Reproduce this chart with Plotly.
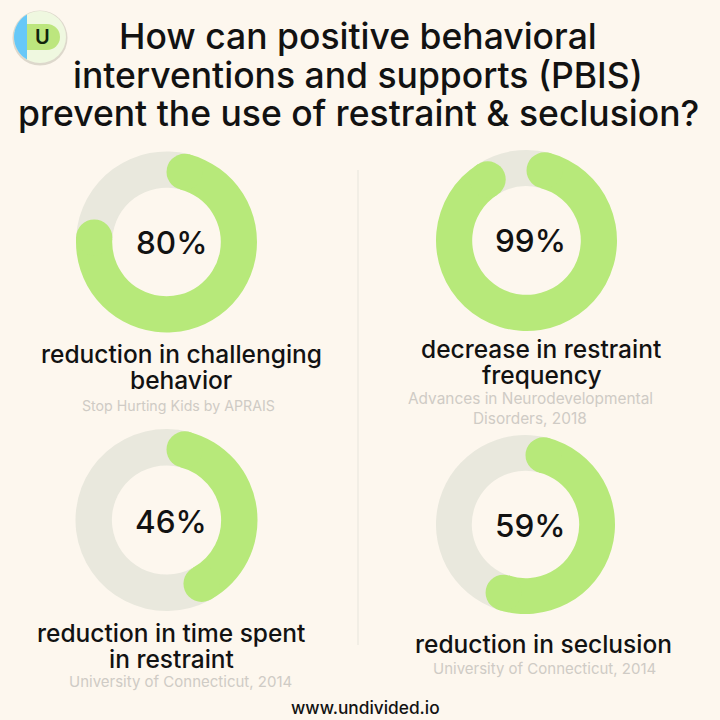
import math
import plotly.graph_objects as go

# ---- data ----
percent_labels = ["80%", "99%", "46%", "59%"]
arc_shares = [80, 95, 46, 59]  # share of the ring actually painted green
captions = [["reduction in challenging", "behavior"], ["decrease in restraint", "frequency"],
            ["reduction in time spent", "in restraint"], ["reduction in seclusion"]]
sources = [["Stop Hurting Kids by APRAIS"], ["Advances in Neurodevelopmental", "Disorders, 2018"],
           ["University of Connecticut, 2014"], ["University of Connecticut, 2014"]]
title_lines = ["How can positive behavioral", "interventions and supports (PBIS)",
               "prevent the use of restraint & seclusion?"]

# ---- layout / style ----
S = 720
BG, GREEN, TRACK = "#FDF7EE", "#B7E97A", "#E9E8DD"
INK, SOFT = "#121212", "#CFCBC5"
FONT = "Inter"
centers = [(166.5, 242), (526.5, 240.5), (166.5, 520), (525.5, 524.5)]
radii = [90.5, 90.5, 91, 89.5]
HOLE = 0.6
pct_pos = [(171, 242), (530, 240), (171, 521), (530, 525)]
cap_pos = [(181, 354), (541, 349), (171, 633), (543, 644)]
src_pos = [(178, 406), (530, 398), (180, 681), (544, 668)]
src_size = [14.2, 15.4, 15, 15]
title_y = [36, 75, 113]
CAP_GAP, SRC_GAP = 26, 20

fig = go.Figure()
shapes, notes = [], []


def note(x, y, text, size, color=INK, weight=500):
    notes.append(dict(x=x, y=y, xref="x", yref="y", text=text, showarrow=False, align="center",
                      xanchor="center", yanchor="middle",
                      font=dict(family=FONT, size=size, color=color, weight=weight)))


# invisible trace pins the pixel-like cartesian frame used by shapes and text
fig.add_trace(go.Scatter(x=[0, S], y=[0, S], mode="markers", marker=dict(opacity=0),
                         hoverinfo="skip", showlegend=False))

for (cx, cy), R, share in zip(centers, radii, arc_shares):
    r = R * HOLE
    mid, half = (R + r) / 2, (R - r) / 2
    cap_deg = math.degrees(math.asin(half / mid))
    cap_share = cap_deg / 3.6
    body = share - 2 * cap_share
    fig.add_trace(go.Pie(values=[body, 100 - body], sort=False, direction="clockwise",
                         rotation=cap_deg, hole=HOLE, textinfo="none", hoverinfo="skip",
                         showlegend=False, marker=dict(colors=[GREEN, TRACK], line=dict(width=0)),
                         domain=dict(x=[(cx - R) / S, (cx + R) / S],
                                     y=[1 - (cy + R) / S, 1 - (cy - R) / S])))
    for deg in (cap_deg, share * 3.6 - cap_deg):
        a = math.radians(deg)
        px, py = cx + mid * math.sin(a), cy - mid * math.cos(a)
        shapes.append(dict(type="circle", xref="x", yref="y", layer="above",
                           x0=px - half, x1=px + half, y0=py - half, y1=py + half,
                           fillcolor=GREEN, line=dict(width=0)))

for (x, y), t in zip(pct_pos, percent_labels):
    note(x, y, t, 31.5, weight=500)
for (x, y), lines in zip(cap_pos, captions):
    for i, t in enumerate(lines):
        note(x, y + i * CAP_GAP, t, 24.5, weight=500)
for (x, y), lines, size in zip(src_pos, sources, src_size):
    for i, t in enumerate(lines):
        note(x, y + i * SRC_GAP, t, size, color=SOFT, weight=400)
for y, t in zip(title_y, title_lines):
    note(358, y, t, 35.5, weight=500)
note(365, 707, "www.undivided.io", 17.3, weight=500)

# divider
shapes.append(dict(type="line", xref="x", yref="y", x0=358, x1=358, y0=170, y1=645,
                   line=dict(color="#EEEBE2", width=1.5), layer="below"))
# logo
lx, ly, lR = 40, 37, 26
chord_x = 27
half_angle = math.degrees(math.acos((lx - chord_x) / lR))
blue_pts = [(lx - lR * math.cos(math.radians(d)), ly + lR * math.sin(math.radians(d)))
            for d in [-half_angle + 2 * half_angle * i / 24 for i in range(25)]]
blue_path = "M" + " L".join(f"{x:.2f},{y:.2f}" for x, y in blue_pts) + " Z"
shapes += [
    dict(type="circle", xref="x", yref="y", layer="above", x0=lx - lR - 1.5, x1=lx + lR + 1.5,
         y0=ly - lR - 0.5, y1=ly + lR + 2.5, fillcolor="#DDD8CC", line=dict(width=0)),
    dict(type="circle", xref="x", yref="y", layer="above", x0=lx - lR, x1=lx + lR,
         y0=ly - lR, y1=ly + lR, fillcolor="#EFF8E0", line=dict(width=0)),
    dict(type="path", xref="x", yref="y", layer="above", path=blue_path,
         fillcolor="#66C8F8", line=dict(width=0)),
    dict(type="rect", xref="x", yref="y", layer="above", x0=27, x1=47, y0=24, y1=50,
         fillcolor="#BCE67E", line=dict(width=0)),
    dict(type="circle", xref="x", yref="y", layer="above", x0=34, x1=60, y0=24, y1=50,
         fillcolor="#BCE67E", line=dict(width=0)),
]
note(42, 37, "U", 20, color="#10240C", weight=600)

hidden = dict(visible=False, showgrid=False, zeroline=False, fixedrange=True)
fig.update_layout(width=S, height=S, margin=dict(l=0, r=0, t=0, b=0),
                  paper_bgcolor=BG, plot_bgcolor=BG, showlegend=False,
                  shapes=shapes, annotations=notes,
                  xaxis=dict(range=[0, S], **hidden), yaxis=dict(range=[S, 0], **hidden))
fig.write_html("out.html", config=dict(displayModeBar=False),
               post_script="document.body.style.margin='0';document.body.style.background='#FDF7EE';")
